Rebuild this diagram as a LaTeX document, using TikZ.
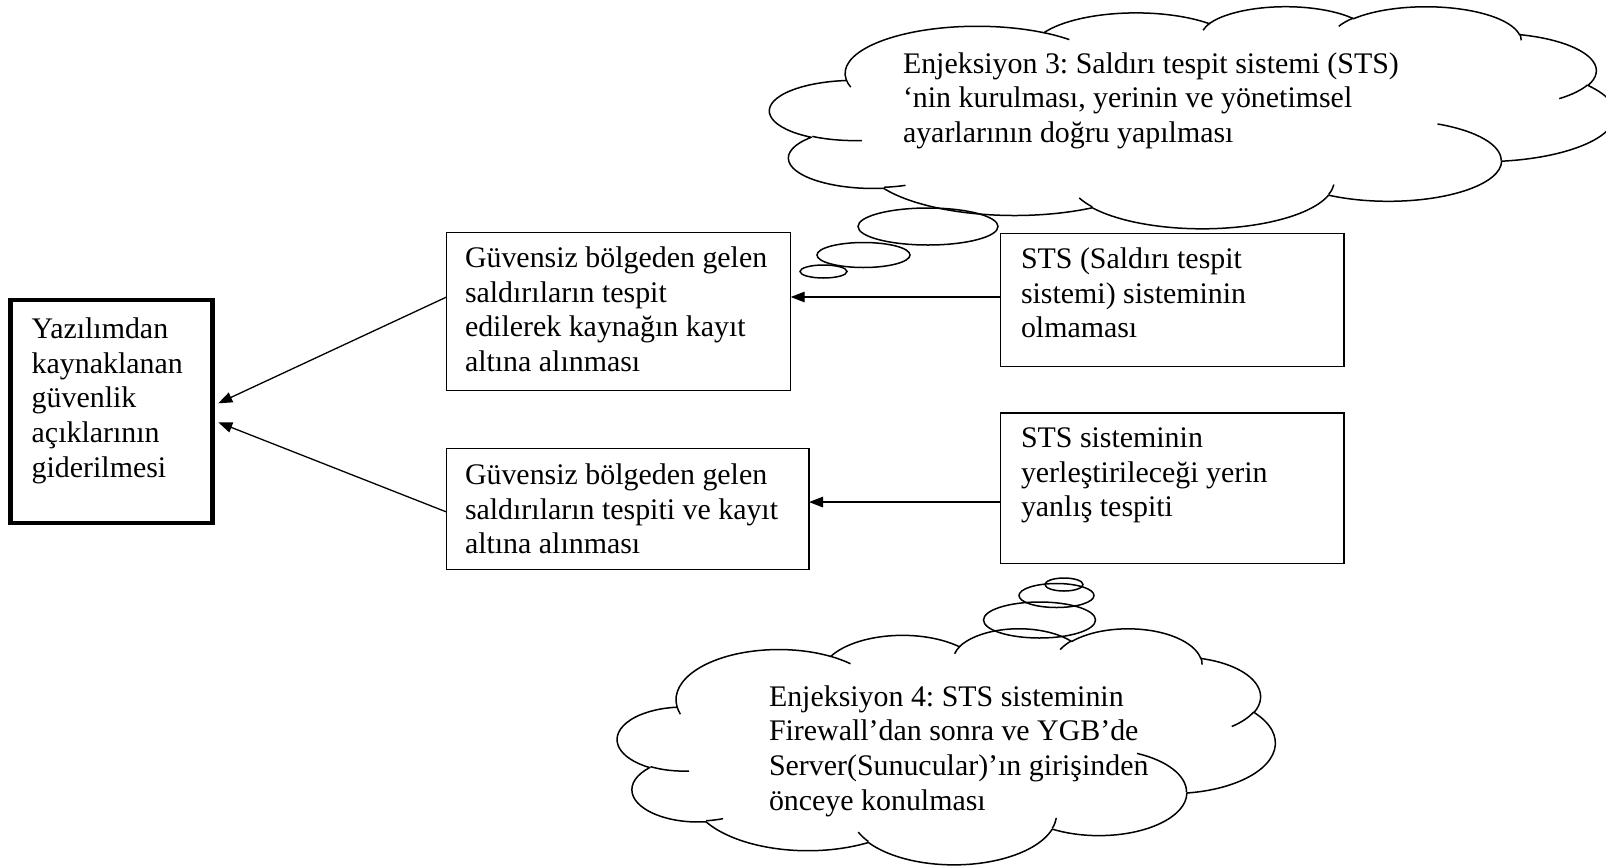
\documentclass[tikz,border=0pt]{standalone}
\usepackage{fontspec}
\setmainfont{Liberation Serif}
\frenchspacing
\usetikzlibrary{arrows.meta,shapes.geometric}

\makeatletter
% One elliptical arc of the cloud outline, given as radii and visual
% start/sweep angles (in units of 1/6 degree); stored as a style with
% TikZ's parametric start and delta angles.
\newcommand\cloudarc[5]{%
  \pgfmathsetmacro\ca@a{#4/6}%
  \pgfmathsetmacro\ca@b{(#4+#5)/6}%
  \pgfmathsetmacro\ca@s{atan2(sin(\ca@a)/#3,cos(\ca@a)/#2)}%
  \pgfmathsetmacro\ca@e{atan2(sin(\ca@b)/#3,cos(\ca@b)/#2)}%
  \pgfmathsetmacro\ca@d{\ca@e-\ca@s}%
  \pgfmathsetmacro\ca@d{\ca@d+360*((#5>0)*(\ca@d<0))-360*((#5<0)*(\ca@d>0))}%
  \edef\ca@tmp{\noexpand\tikzset{#1/.style={start angle=\ca@s,delta angle=\ca@d,x radius=#2,y radius=#3}}}%
  \ca@tmp}
\makeatother

% outline of the cloud (box 0..43.2 x 0..43.2)
\cloudarc{co1}{6.753}{9.190}{-1142.9249}{742.6832}
\cloudarc{co2}{5.333}{7.267}{-864.6143}{539.6714}
\cloudarc{co3}{4.365}{5.945}{-874.8475}{598.3381}
\cloudarc{co4}{4.857}{6.595}{-785.9164}{703.4504}
\cloudarc{co5}{5.333}{7.273}{-472.2533}{654.1615}
\cloudarc{co6}{6.775}{9.220}{-277.6035}{781.6140}
\cloudarc{co7}{5.785}{7.867}{3.7501}{684.2000}
\cloudarc{co8}{6.752}{9.215}{134.7096}{691.0353}
\cloudarc{co9}{7.720}{10.543}{397.4558}{454.2661}
\cloudarc{co10}{4.360}{5.918}{-1649.6525}{880.4134}
\cloudarc{co11}{4.345}{5.945}{-1480.9710}{915.1131}
% short inner strokes between the puffs
\cloudarc{ci1}{4.345}{5.945}{520.4520}{158.5770}
\cloudarc{ci2}{4.360}{5.918}{441.6628}{68.6848}
\cloudarc{ci3}{6.752}{9.215}{825.7449}{84.4866}
\cloudarc{ci4}{6.752}{9.215}{38.7196}{95.9901}
\cloudarc{ci5}{5.785}{7.867}{-421.7541}{425.5042}
\cloudarc{ci6}{5.333}{7.273}{181.9082}{166.5090}
\cloudarc{ci7}{4.857}{6.595}{-82.4660}{89.1534}
\cloudarc{ci8}{4.857}{6.595}{-895.0887}{109.1722}
\cloudarc{ci9}{4.365}{5.945}{-980.9656}{106.1181}
\cloudarc{ci10}{6.753}{9.190}{-400.2417}{73.9161}
\cloudarc{ci11}{6.753}{9.190}{945.9261}{71.1490}

% cloud in the box with top-left corner (#1,#2), width #3, height #4
\newcommand\drawcloud[4]{%
  \pgfmathsetmacro\cloudxu{#3/43.2}%
  \pgfmathsetmacro\cloudyu{#4/43.2}%
  \begin{scope}[shift={(#1,#2)},x=\cloudxu pt,y=-\cloudyu pt]
    \draw[cloudline] (3.900,14.370) arc[co1] arc[co2] arc[co3] arc[co4]
      arc[co5] arc[co6] arc[co7] arc[co8] arc[co9] arc[co10] arc[co11] -- cycle;
    \draw[cloudline]
      (4.693,26.177) arc[ci1] (6.928,34.899) arc[ci2]
      (16.478,39.090) arc[ci3] (28.827,34.751) arc[ci4]
      (34.129,22.954) arc[ci5] (41.798,15.354) arc[ci6]
      (38.324,5.426) arc[ci7] (29.078,3.952) arc[ci8]
      (22.141,4.720) arc[ci9] (14.000,5.192) arc[ci10]
      (4.127,15.789) arc[ci11];
  \end{scope}}

\begin{document}
\begin{tikzpicture}[x=1pt,y=-1pt,
  box/.style={draw,line width=1.4pt,rectangle,inner sep=0pt,outer sep=0pt,anchor=north west},
  txt/.style={inner sep=0pt,outer sep=0pt,anchor=north west,align=left,
    font=\fontsize{29.9}{34.7}\selectfont},
  arr/.style={line width=1.3pt,-{Triangle[length=14pt,width=10.5pt]}},
  cloudline/.style={line width=1.5pt,line join=round},
  bubble/.style={draw,ellipse,line width=1.5pt,inner sep=0pt}]
\useasboundingbox (0,0) rectangle (1606,865);

% boxes
\node[box,line width=4.8pt,minimum width=201.7pt,minimum height=223pt] (L) at (10.8,300) {};
\node[box,minimum width=344.1pt,minimum height=157.7pt] (A) at (446.6,232.5) {};
\node[box,minimum width=362.4pt,minimum height=120.9pt] (B) at (446.6,448.6) {};
\node[box,minimum width=343.2pt,minimum height=133.2pt] (C) at (1000.6,233.5) {};
\node[box,minimum width=343.2pt,minimum height=150.5pt] (D) at (1000.6,412.8) {};

% box texts
\node[txt] (Ltext) at (31.7,314.3) {\rule{0pt}{24pt}Yazılımdan\\kaynaklanan\\güvenlik\\açıklarının\\giderilmesi};
\node[txt] (Atext) at (465,243.3) {\rule{0pt}{24pt}Güvensiz bölgeden gelen\\saldırıların tespit\\edilerek kaynağın kayıt\\altına alınması};
\node[txt] (Btext) at (465,460.5) {\rule{0pt}{24pt}Güvensiz bölgeden gelen\\saldırıların tespiti ve kayıt\\altına alınması};
\node[txt] (Ctext) at (1021,244.5) {\rule{0pt}{24pt}STS (Saldırı tespit\\sistemi) sisteminin\\olmaması};
\node[txt] (Dtext) at (1021,423.5) {\rule{0pt}{24pt}STS sisteminin\\yerleştirileceği yerin\\yanlış tespiti};

% connectors
\draw[arr] ([yshift=3.1pt]C.west) -- ([yshift=14.35pt]A.east);
\draw[arr] ([yshift=-14pt]D.west) -- ([yshift=7pt]B.east);
\draw[arr] ([yshift=14.35pt]A.west) -- ([xshift=5.8pt,yshift=8.2pt]L.east);
\draw[arr] ([yshift=-2.95pt]B.west) -- ([xshift=5.8pt,yshift=-10.8pt]L.east);

% thought clouds
\drawcloud{770}{6}{845}{222}
\drawcloud{617.6}{628}{657.5}{236}

\node[txt] (Ttext) at (903,49) {\rule{0pt}{24pt}Enjeksiyon 3: Saldırı tespit sistemi (STS)\\‘nin kurulması, yerinin ve yönetimsel\\ayarlarının doğru yapılması};
\node[txt] (Btext2) at (769,682) {\rule{0pt}{24pt}Enjeksiyon 4: STS sisteminin\\Firewall’dan sonra ve YGB’de\\Server(Sunucular)’ın girişinden\\önceye konulması};

% bubbles of the cloud tails
\node[bubble,minimum width=140pt,minimum height=37pt] (t1) at (928,226.5) {};
\node[bubble,minimum width=93pt,minimum height=25pt] (t2) at (863.5,255) {};
\node[bubble,minimum width=47pt,minimum height=13pt] (t3) at (823.5,271.5) {};
\node[bubble,minimum width=112pt,minimum height=36pt] (b1) at (1039.5,620) {};
\node[bubble,minimum width=75pt,minimum height=24pt] (b2) at (1056.5,595.5) {};
\node[bubble,minimum width=38pt,minimum height=13pt] (b3) at (1064,584.5) {};
\end{tikzpicture}
\end{document}
